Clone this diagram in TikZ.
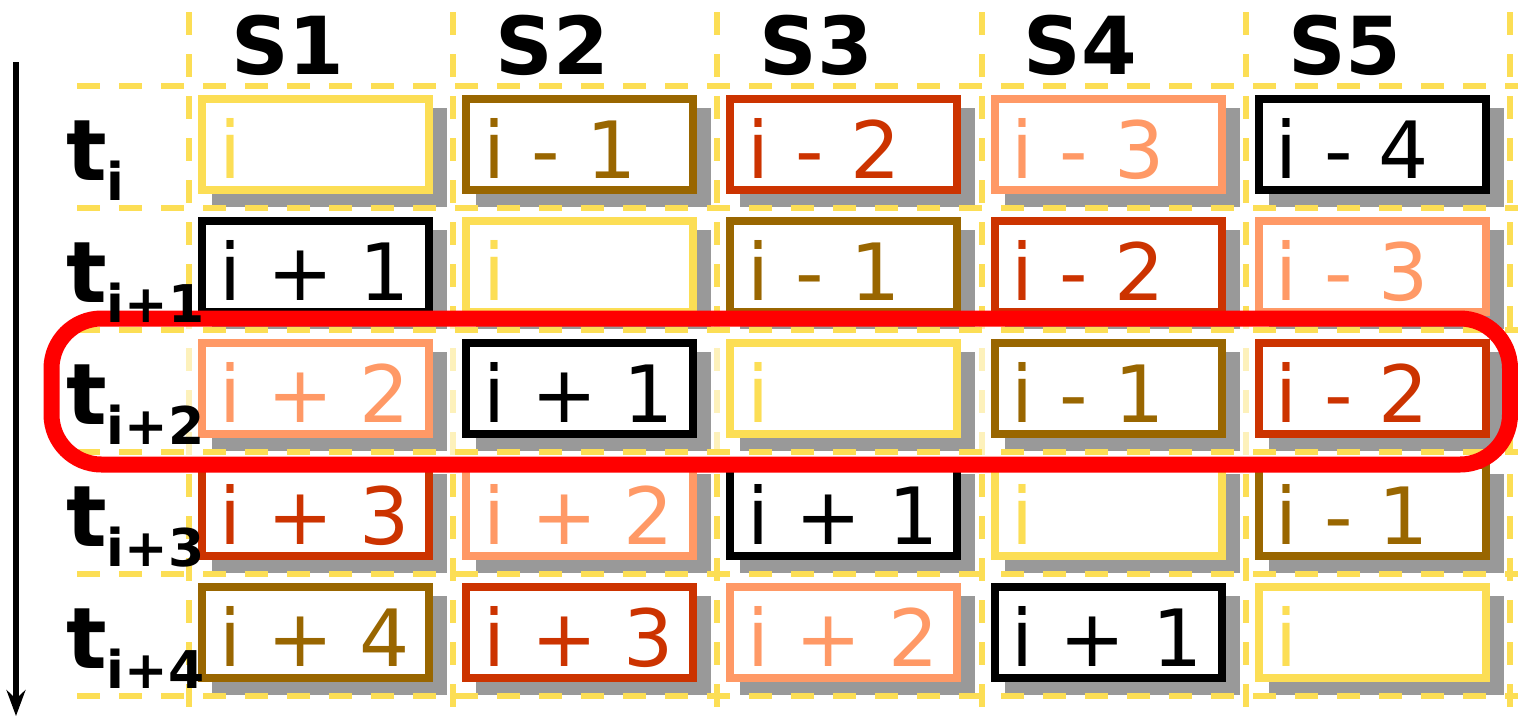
\documentclass[tikz,border=0pt]{standalone}
\usepackage{fontspec}
\setmainfont{DejaVu Sans}
\usetikzlibrary{arrows.meta,positioning,shadows}
\definecolor{stgyellow}{HTML}{FCDE55}
\definecolor{stgbrown}{HTML}{996600}
\definecolor{stgrust}{HTML}{CC3300}
\definecolor{stgsalmon}{HTML}{FF9966}
\definecolor{shade}{HTML}{999999}
\definecolor{hilite}{HTML}{FF0000}

\begin{document}
\begin{tikzpicture}[x=1pt, y=-1pt, node distance=31pt and 37.2pt,
      cell/.style={draw, line width=8pt, fill=white, outer sep=0pt, inner xsep=17pt, inner ysep=0pt,
                   minimum width=227pt, minimum height=91pt, text width=193pt, align=left,
                   text height=67pt, text depth=0pt, font=\fontsize{79}{79}\selectfont,
                   general shadow={fill=shade, draw=shade, line width=8pt, shadow xshift=14pt, shadow yshift=-13pt}},
      yel/.style={cell, draw=stgyellow, text=stgyellow},
      brn/.style={cell, draw=stgbrown, text=stgbrown},
      rst/.style={cell, draw=stgrust, text=stgrust},
      sal/.style={cell, draw=stgsalmon, text=stgsalmon},
      blk/.style={cell, draw=black, text=black},
      grid/.style={stgyellow, line width=6pt, dash pattern=on 23pt off 19pt},
      stagehd/.style={anchor=base west, inner sep=0pt, font=\fontsize{80}{80}\selectfont\bfseries},
      timelbl/.style={anchor=base west, inner sep=0pt, font=\bfseries},
      timearr/.style={-{Stealth[length=26pt, width=19pt, inset=9pt]}, line width=5.5pt}]
    \useasboundingbox (0,0) rectangle (1518,716);

    % dashed grid, columns
    \draw[grid] (189,12) -- (189,716) (453.2,12) -- (453.2,716) (717.4,12) -- (717.4,716)
                (981.6,12) -- (981.6,716) (1245.8,12) -- (1245.8,716) (1510,12) -- (1510,716);
    \fill[white, fill opacity=0.6, rounded corners=50pt] (51.5,318.5) rectangle (1510,464.5);

    % stage contents per time step
    \node[yel] (a11) at (315.5,144.5) {i};
    \node[brn, right=of a11] (a12) {i - 1};
    \node[rst, right=of a12] (a13) {i - 2};
    \node[sal, right=of a13] (a14) {i - 3};
    \node[blk, right=of a14] (a15) {i - 4};

    \node[blk, below=of a11] (a21) {i + 1};
    \node[yel, right=of a21] (a22) {i};
    \node[brn, right=of a22] (a23) {i - 1};
    \node[rst, right=of a23] (a24) {i - 2};
    \node[sal, right=of a24] (a25) {i - 3};

    \node[sal, below=of a21] (a31) {i + 2};
    \node[blk, right=of a31] (a32) {i + 1};
    \node[yel, right=of a32] (a33) {i};
    \node[brn, right=of a33] (a34) {i - 1};
    \node[rst, right=of a34] (a35) {i - 2};

    \node[rst, below=of a31] (a41) {i + 3};
    \node[sal, right=of a41] (a42) {i + 2};
    \node[blk, right=of a42] (a43) {i + 1};
    \node[yel, right=of a43] (a44) {i};
    \node[brn, right=of a44] (a45) {i - 1};

    \node[brn, below=of a41] (a51) {i + 4};
    \node[rst, right=of a51] (a52) {i + 3};
    \node[sal, right=of a52] (a53) {i + 2};
    \node[blk, right=of a53] (a54) {i + 1};
    \node[yel, right=of a54] (a55) {i};

    % dashed grid, rows
    \draw[grid] (77,86) -- (1518,86) (77,208) -- (1518,208) (77,330) -- (1518,330)
                (77,452) -- (1518,452) (77,574) -- (1518,574) (77,696) -- (1518,696);

    \draw[hilite, line width=16pt, rounded corners=50pt] (51.5,318.5) rectangle (1510,464.5);

    \node[stagehd] (s1) at (231,74) {S1};
    \node[stagehd] (s2) at (495.2,74) {S2};
    \node[stagehd] (s3) at (759.4,74) {S3};
    \node[stagehd] (s4) at (1023.6,74) {S4};
    \node[stagehd] (s5) at (1287.8,74) {S5};

    \node[timelbl] (t1) at (66,180) {{\fontsize{85}{85}\selectfont t}\raisebox{-20pt}{\fontsize{52}{52}\selectfont i}};
    \node[timelbl] (t2) at (66,302) {{\fontsize{85}{85}\selectfont t}\raisebox{-20pt}{\fontsize{52}{52}\selectfont i+1}};
    \node[timelbl] (t3) at (66,424) {{\fontsize{85}{85}\selectfont t}\raisebox{-20pt}{\fontsize{52}{52}\selectfont i+2}};
    \node[timelbl] (t4) at (66,546) {{\fontsize{85}{85}\selectfont t}\raisebox{-20pt}{\fontsize{52}{52}\selectfont i+3}};
    \node[timelbl] (t5) at (66,668) {{\fontsize{85}{85}\selectfont t}\raisebox{-20pt}{\fontsize{52}{52}\selectfont i+4}};

    \coordinate (tstart) at (16,62);
    \coordinate (tend) at (16,716);
    \draw[timearr] (tstart) -- (tend);
  \end{tikzpicture}
\end{document}
